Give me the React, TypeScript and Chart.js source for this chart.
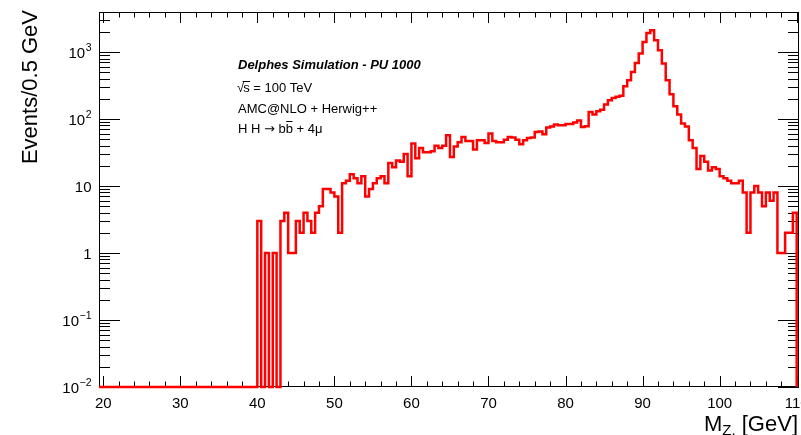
import React, { useEffect, useRef } from "react";
import { Chart, registerables } from "chart.js";

Chart.register(...registerables);

// ---- data ----
const BIN_START = 20; // GeV, lower edge of first bin
const BIN_WIDTH = 0.5; // GeV
// Events per 0.5 GeV bin, bins 20.0 ... 109.5 (lower edges)
const EVENTS: number[] = [
  // 20 - 39.5
  0, 0, 0, 0, 0, 0, 0, 0, 0, 0,
  0, 0, 0, 0, 0, 0, 0, 0, 0, 0,
  0, 0, 0, 0, 0, 0, 0, 0, 0, 0,
  0, 0, 0, 0, 0, 0, 0, 0, 0, 0,
  // 40 - 44.5
  3, 0, 1, 0, 1, 0, 3, 4, 1, 1,
  // 45 - 49.5
  3, 2, 4, 3, 2, 4, 5, 9, 9, 8,
  // 50 - 54.5
  7, 2, 11, 12, 15, 13, 11, 14, 7, 9,
  // 55 - 59.5
  11, 13, 14, 11, 22, 19, 24, 23, 30, 14,
  // 60 - 64.5
  43, 26, 37, 32, 32, 33, 40, 37, 40, 57,
  // 65 - 69.5
  27, 39, 45, 54, 47, 47, 35, 48, 48, 44,
  // 70 - 74.5
  61, 47, 45, 45, 49, 54, 53, 49, 42, 48,
  // 75 - 79.5
  52, 53, 64, 65, 59, 75, 77, 83, 81, 81,
  // 80 - 84.5
  84, 84, 89, 95, 76, 78, 127, 117, 130, 138,
  // 85 - 89.5
  164, 190, 206, 215, 222, 308, 378, 503, 686, 946,
  // 90 - 94.5
  1410, 1923, 2108, 1496, 1059, 671, 378, 234, 155, 117,
  // 95 - 99.5
  86, 77, 48, 37, 18, 28, 23, 17, 19, 18,
  // 100 - 104.5
  14, 13, 12, 11, 11, 12, 8, 2, 8, 10,
  // 105 - 109.5
  8, 5, 8, 6, 8, 1, 1, 2, 2, 4,
];

const X_MIN = 19.45;
const X_MAX = 110.3;
const Y_MIN = 0.01;
const Y_MAX = 3955;

const X_TICK_VALUES = [20, 30, 40, 50, 60, 70, 80, 90, 100, 110];
const X_TICK_LABELS = ["20", "30", "40", "50", "60", "70", "80", "90", "100", "110"];
const Y_TICK_VALUES = [0.01, 0.1, 1, 10, 100, 1000];
const Y_TICK_BASES = ["10", "10", "1", "10", "10", "10"];
const Y_TICK_EXPS = ["\u22122", "\u22121", "", "", "2", "3"];

const Y_TITLE = "Events/0.5 GeV";
const X_TITLE_MAIN = "M";
const X_TITLE_SUB = "Z.";
const X_TITLE_REST = " [GeV]";

const LABEL_TITLE = "Delphes Simulation - PU 1000";
const LABEL_ENERGY = "= 100 TeV";
const LABEL_GENERATOR = "AMC@NLO + Herwig++";
const LABEL_PROCESS_A = "H H ";
const LABEL_PROCESS_ARROW = "\u2192";
const LABEL_PROCESS_B = " b";
const LABEL_PROCESS_BBAR = "b";
const LABEL_PROCESS_C = " + 4\u03bc";

const FONT = '"Liberation Sans", Arial, Helvetica, sans-serif';

const framePlugin = {
  id: "rootFrame",
  beforeDatasetsDraw(chart: any) {
    const { ctx, chartArea: a, scales } = chart;
    const xs = scales.x;
    const ys = scales.y;
    ctx.save();
    ctx.strokeStyle = "#000";
    ctx.lineWidth = 1;
    ctx.strokeRect(a.left + 0.5, a.top + 0.5, a.right - a.left - 1, a.bottom - a.top - 1);
    ctx.beginPath();
    for (let v = 20; v <= 110; v += 2) {
      const px = Math.round(xs.getPixelForValue(v)) + 0.5;
      const len = v % 10 === 0 ? 11 : 5.5;
      ctx.moveTo(px, a.bottom);
      ctx.lineTo(px, a.bottom - len);
      ctx.moveTo(px, a.top);
      ctx.lineTo(px, a.top + len);
    }
    for (let d = -2; d <= 3; d++) {
      for (let m = 1; m <= 9; m++) {
        const val = m * Math.pow(10, d);
        if (val < Y_MIN || val > Y_MAX) continue;
        const py = Math.round(ys.getPixelForValue(val)) + 0.5;
        const len = m === 1 ? 21 : 11;
        ctx.moveTo(a.left, py);
        ctx.lineTo(a.left + len, py);
        ctx.moveTo(a.right, py);
        ctx.lineTo(a.right - len, py);
      }
    }
    ctx.stroke();
    ctx.restore();
  },
  afterDraw(chart: any) {
    const { ctx, chartArea: a, scales } = chart;
    const xs = scales.x;
    const ys = scales.y;
    ctx.save();
    ctx.fillStyle = "#000";
    ctx.font = `15px ${FONT}`;
    ctx.textAlign = "center";
    ctx.textBaseline = "alphabetic";
    X_TICK_VALUES.forEach((v, i) => {
      ctx.fillText(X_TICK_LABELS[i], xs.getPixelForValue(v), a.bottom + 21);
    });
    const rightEdge = a.left - 7.5;
    Y_TICK_VALUES.forEach((v, i) => {
      const py = ys.getPixelForValue(v);
      const exp = Y_TICK_EXPS[i];
      let xr = rightEdge;
      ctx.textAlign = "right";
      if (exp) {
        ctx.font = `10.5px ${FONT}`;
        ctx.fillText(exp, xr, py - 1);
        xr -= ctx.measureText(exp).width + 0.5;
      }
      ctx.font = `15px ${FONT}`;
      ctx.fillText(Y_TICK_BASES[i], xr, py + 5.5);
    });
    ctx.save();
    ctx.translate(36.5, 10);
    ctx.rotate(-Math.PI / 2);
    ctx.font = `22px ${FONT}`;
    ctx.textAlign = "right";
    ctx.fillText(Y_TITLE, 0, 0);
    ctx.restore();

    ctx.textAlign = "left";
    ctx.font = `22px ${FONT}`;
    const wM = ctx.measureText(X_TITLE_MAIN).width;
    const wRest = ctx.measureText(X_TITLE_REST).width;
    ctx.font = `15px ${FONT}`;
    const wSub = ctx.measureText(X_TITLE_SUB).width;
    const xEnd = 798;
    let tx = xEnd - wRest - wSub - wM;
    const ty = 431;
    ctx.font = `22px ${FONT}`;
    ctx.fillText(X_TITLE_MAIN, tx, ty);
    tx += wM;
    ctx.font = `15px ${FONT}`;
    ctx.fillText(X_TITLE_SUB, tx, ty + 4);
    tx += wSub;
    ctx.font = `22px ${FONT}`;
    ctx.fillText(X_TITLE_REST, tx, ty);

    const lx = 238;
    ctx.font = `italic bold 13px ${FONT}`;
    ctx.fillText(LABEL_TITLE, lx, 68.5);
    ctx.font = `13px ${FONT}`;
    const rad = "\u221a";
    ctx.fillText(rad, lx - 1, 91.5);
    const wRad = ctx.measureText(rad).width;
    const sx = lx - 1 + wRad - 1;
    ctx.fillText("s", sx, 91.5);
    const wS = ctx.measureText("s").width;
    ctx.lineWidth = 1;
    ctx.strokeStyle = "#000";
    ctx.beginPath();
    ctx.moveTo(sx - 0.5, 81.5);
    ctx.lineTo(sx + wS + 0.5, 81.5);
    ctx.stroke();
    ctx.fillText(" " + LABEL_ENERGY, sx + wS, 91.5);
    ctx.fillText(LABEL_GENERATOR, lx, 112.5);

    let px = lx;
    ctx.fillText(LABEL_PROCESS_A, px, 133);
    px += ctx.measureText(LABEL_PROCESS_A).width;
    ctx.font = `13px "DejaVu Sans", ${FONT}`;
    ctx.fillText(LABEL_PROCESS_ARROW, px, 133);
    px += ctx.measureText(LABEL_PROCESS_ARROW).width;
    ctx.font = `13px ${FONT}`;
    ctx.fillText(LABEL_PROCESS_B, px, 133);
    px += ctx.measureText(LABEL_PROCESS_B).width;
    ctx.fillText(LABEL_PROCESS_BBAR, px, 133);
    const wb = ctx.measureText(LABEL_PROCESS_BBAR).width;
    ctx.beginPath();
    ctx.moveTo(px + 0.5, 121.5);
    ctx.lineTo(px + wb - 0.5, 121.5);
    ctx.stroke();
    px += wb;
    ctx.fillText(LABEL_PROCESS_C, px, 133);
    ctx.restore();
  },
};

export default function App() {
  const canvasRef = useRef<HTMLCanvasElement | null>(null);

  useEffect(() => {
    const canvas = canvasRef.current;
    if (!canvas) return;
    const points: { x: number; y: number }[] = [{ x: X_MIN, y: Y_MIN }];
    EVENTS.forEach((v, i) => {
      points.push({ x: BIN_START + i * BIN_WIDTH, y: v > 0 ? v : Y_MIN });
    });
    const xEndEdge = BIN_START + EVENTS.length * BIN_WIDTH;
    const lastVal = EVENTS[EVENTS.length - 1];
    points.push({ x: xEndEdge, y: lastVal > 0 ? lastVal : Y_MIN });
    points.push({ x: xEndEdge, y: Y_MIN });

    const chart = new Chart(canvas, {
      type: "line",
      data: {
        datasets: [
          {
            data: points,
            borderColor: "#ff0000",
            borderWidth: 2.5,
            pointRadius: 0,
            fill: false,
            stepped: "before",
            tension: 0,
            clip: false as any,
          },
        ],
      },
      options: {
        animation: false,
        responsive: false,
        maintainAspectRatio: false,
        devicePixelRatio: 1,
        events: [],
        layout: { padding: { left: 99, top: 12, right: 2, bottom: 48 } },
        plugins: { legend: { display: false }, tooltip: { enabled: false } },
        scales: {
          x: { type: "linear", min: X_MIN, max: X_MAX, display: false },
          y: { type: "logarithmic", min: Y_MIN, max: Y_MAX, display: false },
        },
      },
      plugins: [framePlugin],
    });
    return () => chart.destroy();
  }, []);

  return (
    <div
      style={{
        position: "absolute",
        left: 0,
        top: 0,
        width: 801,
        height: 435,
        overflow: "hidden",
        background: "#fff",
      }}
    >
      <canvas ref={canvasRef} width={801} height={435} style={{ display: "block", width: 801, height: 435 }} />
    </div>
  );
}
